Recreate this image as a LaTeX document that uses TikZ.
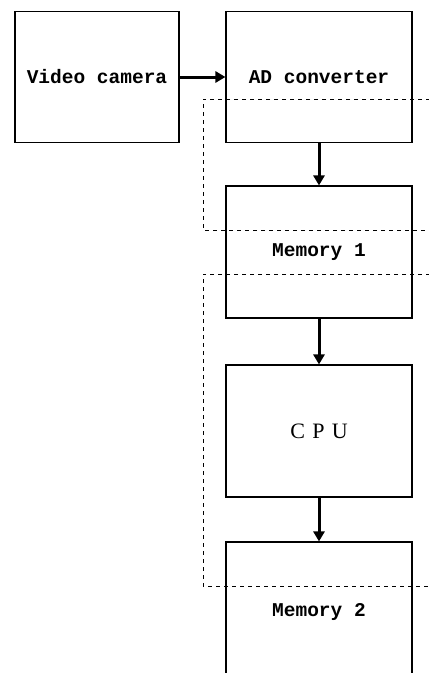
\documentclass[tikz,border=0pt]{standalone}
\usepackage{fontspec}
\setmonofont{Liberation Mono}
\newfontfamily\cpufont{Liberation Serif}
\usetikzlibrary{arrows.meta}
\begin{document}
\begin{tikzpicture}[x=1pt,y=-1pt,
  blk/.style={draw,line width=1.1pt,minimum width=186pt,inner sep=0pt,font=\ttfamily\bfseries\fontsize{19.5}{22}\selectfont},
  flow/.style={line width=3pt,-{Triangle[length=10pt,width=11pt]}},
  zone/.style={line width=1pt,dash pattern=on 4pt off 4pt}]
\useasboundingbox (0,0) rectangle (429,673);
\clip (0,0) rectangle (429,673);
\node[blk,minimum width=164pt,minimum height=131pt] (vc) at (97,77) {Video camera};
\node[blk,minimum height=131pt] (ad) at (319,77) {AD converter};
\node[blk,minimum height=132pt] (m1) at (319,252) {Memory 1};
\node[blk,minimum height=132pt,font=\cpufont\fontsize{22}{24}\selectfont] (cpu) at (319,431) {C\,\,P\,\,U};
\node[blk,minimum height=140pt] (m2) at (319,612) {Memory 2};
\draw[flow] (vc.east) -- (ad.west);
\draw[flow] (ad.south) -- (m1.north);
\draw[flow] (m1.south) -- (cpu.north);
\draw[flow] (cpu.south) -- (m2.north);
\coordinate (z1a) at (430,99);
\coordinate (z1b) at (430,230);
\coordinate (z2a) at (430,274);
\coordinate (z2b) at (430,586);
\draw[zone] (z1a) -- (203,99) -- (203,230) -- (z1b);
\draw[zone] (z2a) -- (203,274) -- (203,586) -- (z2b);
\end{tikzpicture}
\end{document}
